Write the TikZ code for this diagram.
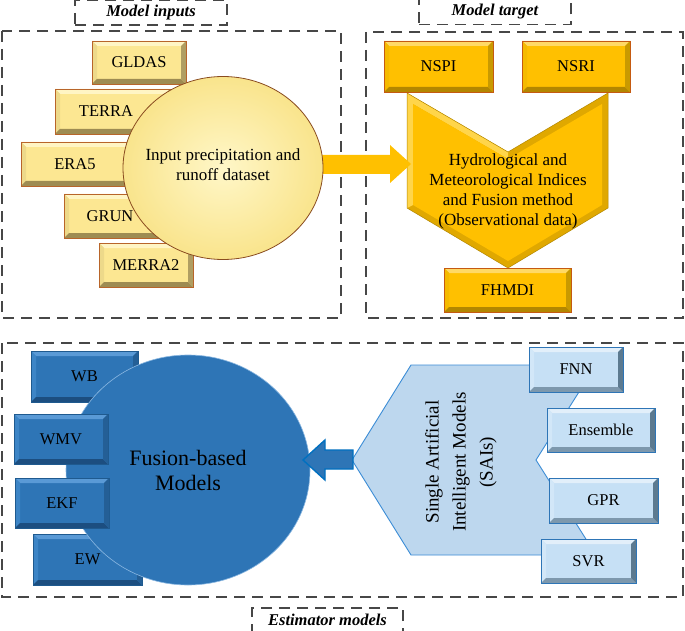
\documentclass[tikz,border=0pt]{standalone}
\usepackage{fontspec}
\setmainfont{Liberation Serif}
\usetikzlibrary{shapes.geometric}
% yellow
\definecolor{Ybase}{HTML}{FCE792}\definecolor{Ylt}{HTML}{FFF5C4}\definecolor{Ylt2}{HTML}{EDD98A}
\definecolor{Ydk}{HTML}{9E8C52}\definecolor{Ydk2}{HTML}{B09E62}\definecolor{Ybd}{HTML}{B8652A}
\definecolor{Ycin}{HTML}{FFF7C8}\definecolor{Ycout}{HTML}{F9E48C}
% gold
\definecolor{Gbase}{HTML}{FFC000}\definecolor{Glt}{HTML}{FFD966}\definecolor{Glt2}{HTML}{F5BA00}
\definecolor{Gdk}{HTML}{B38700}\definecolor{Gdk2}{HTML}{C99A00}\definecolor{Gbd}{HTML}{C55A11}
% blue
\definecolor{Bbase}{HTML}{2E75B6}\definecolor{Blt}{HTML}{5A9AD6}\definecolor{Blt2}{HTML}{3D85C6}
\definecolor{Bdk}{HTML}{1C4E80}\definecolor{Bdk2}{HTML}{245F96}\definecolor{Bbd}{HTML}{1F5A8F}
% light blue
\definecolor{Lbase}{HTML}{C6E0F5}\definecolor{Llt}{HTML}{E2EFFA}\definecolor{Llt2}{HTML}{D2E7F8}
\definecolor{Ldk}{HTML}{7D98AD}\definecolor{Ldk2}{HTML}{5C7A90}\definecolor{Lbd}{HTML}{2E75B6}
\definecolor{hexfill}{HTML}{BDD7EE}\definecolor{hexline}{HTML}{3C8DD6}
\definecolor{chevdk}{HTML}{E0A800}\definecolor{chevlt}{HTML}{FFD54A}
\definecolor{arrblue}{HTML}{0070C0}
\def\bevw{5}
\newcommand\bevbox[8]{%
  \fill[#6base] (#2,#3) rectangle (#4,#5);
  \fill[#6lt] (#2,#3) -- (#4,#3) -- ({#4-\bevw},{#3+\bevw}) -- ({#2+\bevw},{#3+\bevw}) -- cycle;
  \fill[#6lt2] (#2,#3) -- ({#2+\bevw},{#3+\bevw}) -- ({#2+\bevw},{#5-\bevw}) -- (#2,#5) -- cycle;
  \fill[#6dk] (#2,#5) -- ({#2+\bevw},{#5-\bevw}) -- ({#4-\bevw},{#5-\bevw}) -- (#4,#5) -- cycle;
  \fill[#6dk2] (#4,#3) -- ({#4-\bevw},{#3+\bevw}) -- ({#4-\bevw},{#5-\bevw}) -- (#4,#5) -- cycle;
  \draw[#6bd, line width=0.8pt] (#2,#3) rectangle (#4,#5);
  \node[boxtext] (#1) at (#7,{(#3+#5)/2}) {#8};
}
\begin{document}
\begin{tikzpicture}[x=1pt,y=-1pt,
  dashbox/.style={draw=black!72, line width=1.1pt, dash pattern=on 11pt off 7pt},
  lbl/.style={dashbox, font=\fontsize{16.5}{18}\selectfont\bfseries\itshape, inner sep=0pt},
  boxtext/.style={font=\fontsize{16.5}{19}\selectfont, inner sep=0pt},
  midtext/.style={font=\fontsize{17}{20}\selectfont, align=center, inner sep=0pt}]
\useasboundingbox (0,0) rectangle (685,631);
\fill[white] (0,0) rectangle (685,631);

% dashed frames and labels
\draw[dashbox] (2,31) rectangle (341,318);
\draw[dashbox] (366,32) rectangle (683,318);
\draw[dashbox] (2,343) rectangle (683,597);
\node[lbl, minimum width=152pt, minimum height=25pt] (lin) at (151,12.5) {Model inputs};
\node[lbl, minimum width=152pt, minimum height=25pt] (ltg) at (495,12) {Model target};
\node[lbl, minimum width=151pt, minimum height=24pt] (lest) at (327.5,620) {Estimator models};

% ===== Model inputs =====
\bevbox{gldas}{92}{41}{186}{84}{Y}{139}{GLDAS}
\bevbox{terra}{55}{89}{170}{134}{Y}{106}{TERRA}
\bevbox{era}{21}{142}{140}{186}{Y}{75}{ERA5}
\bevbox{grun}{64}{194}{170}{238}{Y}{110}{GRUN}
\bevbox{merra}{99}{243}{193}{287}{Y}{146}{MERRA2}

% ===== Model target =====
\fill[chevdk] (407,93) -- (508,152) -- (608,93) -- (608,208) -- (508,268) -- (407,208) -- cycle;
\fill[chevlt] (407,93) -- (508,152) -- (508,159) -- (413,104) -- (413,205) -- (407,208) -- cycle;
\fill[Gbase] (413,104) -- (508,159) -- (602,104) -- (602,205) -- (508,261) -- (413,205) -- cycle;
\draw[Gdk, line width=0.5pt] (407,93) -- (508,152) -- (608,93) -- (608,208) -- (508,268) -- (407,208) -- cycle;
\node[midtext] (hmi) at (508,191) {Hydrological and\\Meteorological Indices\\and Fusion method\\(Observational data)};
\bevbox{nspi}{384}{41}{493}{92}{G}{438.5}{NSPI}
\bevbox{nsri}{522}{41}{630}{92}{G}{576}{NSRI}
\bevbox{fhmdi}{444}{268}{571}{312}{G}{507.5}{FHMDI}

% yellow block arrow
\fill[Gbase] (300,155) -- (390,155) -- (390,145) -- (411,164) -- (390,183) -- (390,174) -- (300,174) -- cycle;

% input circle
\node[ellipse, draw=Ybd!75!black, line width=0.8pt, inner color=Ycin, outer color=Ycout,
      minimum width=200pt, minimum height=183pt, midtext] (inp) at (223,168) {};
\node[midtext] (inptext) at (223,165) {Input precipitation and\\runoff dataset};

% ===== Estimator models =====
\bevbox{wb}{31}{351}{138}{402}{B}{84.5}{WB}
\bevbox{ew}{33}{534}{142}{585}{B}{87.5}{EW}
\node[ellipse, fill=Bbase, draw=Blt!70!white, line width=0.6pt,
      minimum width=244pt, minimum height=230pt,
      font=\fontsize{22}{25}\selectfont, align=center, inner sep=0pt] (fus) at (188,470)
      {Fusion-based\\Models};
\bevbox{wmv}{14}{414}{108}{464}{B}{61}{WMV}
\bevbox{ekf}{15}{478}{109}{528}{B}{62}{EKF}

% SAI chevron
\filldraw[fill=hexfill, draw=hexline, line width=0.9pt]
  (352,460) -- (411,365) -- (596,365) -- (536,460) -- (596,555) -- (411,555) -- cycle;
\node[rotate=90, font=\fontsize{19}{27}\selectfont, align=center, inner sep=0pt] (sai) at (461,462)
  {Single Artificial\\Intelligent Models\\(SAIs)};

% blue block arrow
\filldraw[fill=Bbase, draw=arrblue, line width=1.4pt, line join=miter]
  (353,450) -- (325,450) -- (325,440) -- (303,460) -- (325,480) -- (325,469) -- (353,469) -- cycle;

\bevbox{fnn}{529}{347}{623}{392}{L}{576}{FNN}
\bevbox{ens}{547}{408}{655}{452}{L}{601}{Ensemble}
\bevbox{gpr}{549}{478}{658}{523}{L}{603.5}{GPR}
\bevbox{svr}{541}{539}{636}{583}{L}{588.5}{SVR}
\end{tikzpicture}
\end{document}
